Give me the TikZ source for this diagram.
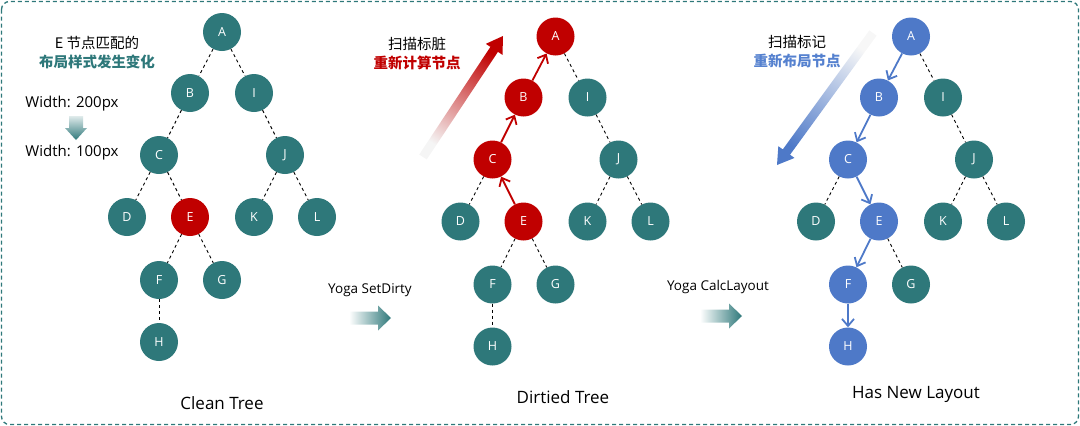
\documentclass[tikz,border=0pt]{standalone}
\usepackage{fontspec}
\setmainfont{Open Sans}
\newfontfamily\cjk{Noto Sans CJK SC}
\usetikzlibrary{arrows.meta,calc}
\definecolor{teal1}{HTML}{2E787A}
\definecolor{red1}{HTML}{C00000}
\definecolor{blue1}{HTML}{4E79C8}
\definecolor{bluetxt}{HTML}{5581CF}
\newcommand\gradarrow[6]{%
  \coordinate (ga-t) at (#1);
  \coordinate (ga-h) at (#2);
  \coordinate (ga-b) at ($(ga-h)!#5!(ga-t)$);
  \shade[#6] ($(ga-t)!#3!90:(ga-h)$) -- ($(ga-b)!#3!90:(ga-h)$) -- ($(ga-b)!#4!90:(ga-h)$) -- (ga-h)
    -- ($(ga-b)!#4!-90:(ga-h)$) -- ($(ga-b)!#3!-90:(ga-h)$) -- ($(ga-t)!#3!-90:(ga-h)$) -- cycle;
}
\begin{document}
\begin{tikzpicture}[x=1pt,y=-1pt,
  nd/.style={circle, minimum size=38pt, inner sep=0pt, text=white, font=\fontsize{12.5}{12.5}\selectfont},
  tn/.style={nd, fill=teal1},
  rn/.style={nd, fill=red1},
  bn/.style={nd, fill=blue1},
  dsh/.style={black, line width=0.9pt, dash pattern=on 3pt off 3pt},
  rarr/.style={red1, line width=1.8pt, -{Straight Barb[length=7pt,width=12pt]}},
  barr/.style={blue1, line width=1.8pt, -{Straight Barb[length=7pt,width=12pt]}},
  lbl/.style={font=\fontsize{13.5}{14}\selectfont, text=black},
  ttl/.style={font=\fontsize{17}{18}\selectfont, text=black},
  cn/.style={font=\cjk\fontsize{14.5}{15}\selectfont, text=black},
  cnb/.style={font=\cjk\bfseries\fontsize{14.5}{15}\selectfont},
  wd/.style={font=\fontsize{15}{16}\selectfont, text=black}
]
\useasboundingbox (0,0) rectangle (1080,426);
\draw[teal1, line width=1.3pt, dash pattern=on 4pt off 3pt, rounded corners=8pt] (1.5,1.5) rectangle (1078.5,424.5);

% ---------- Tree 1 ----------
\begin{scope}[shift={(222,32)}]
\node[tn] (t1A) at (0,0) {A};
\node[tn] (t1B) at (-32,61) {B};
\node[tn] (t1I) at (32,61) {I};
\node[tn] (t1C) at (-63,123) {C};
\node[tn] (t1J) at (63,123) {J};
\node[tn] (t1D) at (-95,185) {D};
\node[rn] (t1E) at (-32,185) {E};
\node[tn] (t1K) at (32,185) {K};
\node[tn] (t1L) at (95,185) {L};
\node[tn] (t1F) at (-63,248) {F};
\node[tn] (t1G) at (0,248) {G};
\node[tn] (t1H) at (-63,310) {H};
\end{scope}
\draw[dsh] (t1A) -- (t1B);
\draw[dsh] (t1A) -- (t1I);
\draw[dsh] (t1B) -- (t1C);
\draw[dsh] (t1C) -- (t1D);
\draw[dsh] (t1C) -- (t1E);
\draw[dsh] (t1I) -- (t1J);
\draw[dsh] (t1J) -- (t1K);
\draw[dsh] (t1J) -- (t1L);
\draw[dsh] (t1E) -- (t1F);
\draw[dsh] (t1E) -- (t1G);
\draw[dsh] (t1F) -- (t1H);

\node[cn] (n1a) at (97,43) {E 节点匹配的};
\node[cnb, text=teal1] (n1b) at (97,62) {布局样式发生变化};
\node[wd] (w1) at (72,104) {Width: 200px};
\node[wd] (w2) at (72,153) {Width: 100px};
\gradarrow{76,116}{76,140}{7pt}{11pt}{12pt}{top color=teal1!15, bottom color=teal1}
\node[ttl] (c1) at (222,403) {Clean Tree};

% ---------- Tree 2 ----------
\begin{scope}[shift={(555.5,36.5)}]
\node[rn] (t2A) at (0,0) {A};
\node[rn] (t2B) at (-32,61) {B};
\node[tn] (t2I) at (32,61) {I};
\node[rn] (t2C) at (-63,123) {C};
\node[tn] (t2J) at (63,123) {J};
\node[tn] (t2D) at (-95,185) {D};
\node[rn] (t2E) at (-32,185) {E};
\node[tn] (t2K) at (32,185) {K};
\node[tn] (t2L) at (95,185) {L};
\node[tn] (t2F) at (-63,248) {F};
\node[tn] (t2G) at (0,248) {G};
\node[tn] (t2H) at (-63,310) {H};
\end{scope}
\draw[dsh] (t2A) -- (t2I);
\draw[dsh] (t2C) -- (t2D);
\draw[dsh] (t2I) -- (t2J);
\draw[dsh] (t2J) -- (t2K);
\draw[dsh] (t2J) -- (t2L);
\draw[dsh] (t2E) -- (t2F);
\draw[dsh] (t2E) -- (t2G);
\draw[dsh] (t2F) -- (t2H);
\draw[rarr] (t2E) -- (t2C);
\draw[rarr] (t2C) -- (t2B);
\draw[rarr] (t2B) -- (t2A);

\node[cn] (n2a) at (417,44) {扫描标脏};
\node[cnb, text=red1] (n2b) at (417,63) {重新计算节点};
\gradarrow{423,157}{503,36}{4.5pt}{10pt}{16pt}{top color=red1, bottom color=black!4, shading angle=-33.5}
\node[ttl] (c2) at (563,397) {Dirtied Tree};

\node[lbl] (s1) at (370,290) {Yoga SetDirty};
\gradarrow{349,318}{391,318}{6.5pt}{12.5pt}{13pt}{left color=white, right color=teal1}

% ---------- Tree 3 ----------
\begin{scope}[shift={(911,36.5)}]
\node[bn] (t3A) at (0,0) {A};
\node[bn] (t3B) at (-32,61) {B};
\node[tn] (t3I) at (32,61) {I};
\node[bn] (t3C) at (-63,123) {C};
\node[tn] (t3J) at (63,123) {J};
\node[tn] (t3D) at (-95,185) {D};
\node[bn] (t3E) at (-32,185) {E};
\node[tn] (t3K) at (32,185) {K};
\node[tn] (t3L) at (95,185) {L};
\node[bn] (t3F) at (-63,248) {F};
\node[tn] (t3G) at (0,248) {G};
\node[bn] (t3H) at (-63,310) {H};
\end{scope}
\draw[dsh] (t3A) -- (t3I);
\draw[dsh] (t3C) -- (t3D);
\draw[dsh] (t3I) -- (t3J);
\draw[dsh] (t3J) -- (t3K);
\draw[dsh] (t3J) -- (t3L);
\draw[dsh] (t3E) -- (t3G);
\draw[barr] (t3A) -- (t3B);
\draw[barr] (t3B) -- (t3C);
\draw[barr] (t3C) -- (t3E);
\draw[barr] (t3E) -- (t3F);
\draw[barr] (t3F) -- (t3H);

\node[cn] (n3a) at (797,42) {扫描标记};
\node[cnb, text=bluetxt] (n3b) at (797,61) {重新布局节点};
\gradarrow{873,33}{777,165}{4.5pt}{10pt}{16pt}{top color=blue1, bottom color=black!3, shading angle=144}
\node[ttl] (c3) at (916,394) {Has New Layout};

\node[lbl] (s2) at (718,287) {Yoga CalcLayout};
\gradarrow{700,316}{742,316}{6.5pt}{12.5pt}{13pt}{left color=white, right color=teal1}
\end{tikzpicture}
\end{document}
